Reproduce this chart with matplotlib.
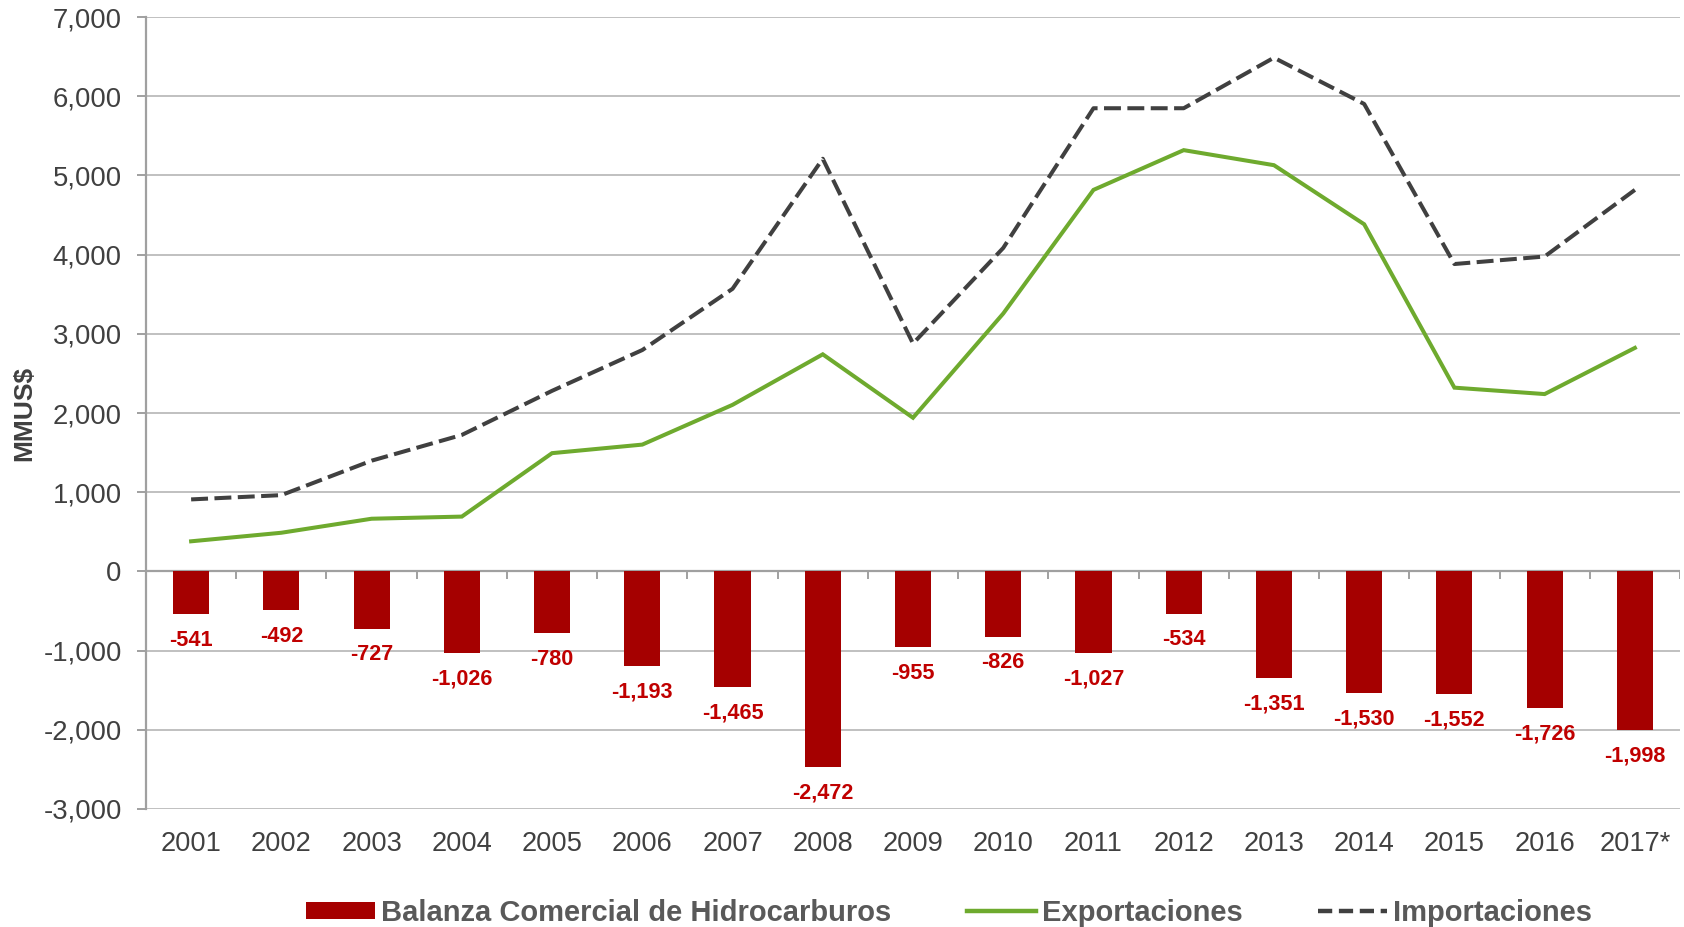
import matplotlib
matplotlib.use("Agg")
import matplotlib.pyplot as plt
from matplotlib.patches import Patch
from matplotlib.lines import Line2D
import numpy as np

plt.rcParams['font.family'] = ['Liberation Sans', 'DejaVu Sans']

years = ["2001", "2002", "2003", "2004", "2005", "2006", "2007", "2008", "2009",
         "2010", "2011", "2012", "2013", "2014", "2015", "2016", "2017*"]
balanza = [-541, -492, -727, -1026, -780, -1193, -1465, -2472, -955,
           -826, -1027, -534, -1351, -1530, -1552, -1726, -1998]
exportaciones = [380, 488, 665, 692, 1493, 1601, 2103, 2741, 1940,
                 3256, 4817, 5319, 5129, 4383, 2320, 2239, 2822]
importaciones = [909, 963, 1398, 1723, 2280, 2795, 3568, 5210, 2877,
                 4084, 5848, 5848, 6486, 5902, 3881, 3976, 4817]
yticks = [-3000, -2000, -1000, 0, 1000, 2000, 3000, 4000, 5000, 6000, 7000]

BAR = '#A50000'
LBL = '#C00000'
GREEN = '#6EAA2E'
DASH = '#404040'
GRID = '#C0C0C0'
AXC = '#A0A0A0'
TXT = '#404040'

fig = plt.figure(figsize=(16.84, 9.27), dpi=100)
ax = fig.add_axes([146/1684, 1-809/927, (1680-146)/1684, (809-17)/927])

x = np.arange(len(years))
ax.bar(x, balanza, width=0.4, color=BAR, zorder=3)
ax.plot(x, exportaciones, color=GREEN, lw=2.9, zorder=4, solid_joinstyle='miter')
ax.plot(x, importaciones, color=DASH, lw=2.9, dashes=(4.2, 1.6), zorder=4)

for xi, v in zip(x, balanza):
    ax.annotate(f"{v:,}", (xi, v), xytext=(0, -18.7), textcoords='offset points',
                ha='center', va='center', color=LBL, fontsize=15.6, fontweight='bold', zorder=5)

ax.set_xlim(-0.5, len(years) - 0.5)
ax.set_ylim(-3000, 7000)
ax.set_yticks(yticks)
ax.set_yticklabels([f"{t:,}" for t in yticks])
ax.yaxis.grid(True, color=GRID, lw=1.4, zorder=0)
ax.set_axisbelow(True)
ax.set_xticks(x)
ax.set_xticklabels(years)

for s in ['top', 'right', 'bottom']:
    ax.spines[s].set_visible(False)
ax.spines['left'].set_color(AXC)
ax.spines['left'].set_linewidth(1.6)
ax.tick_params(axis='y', length=6.5, width=1.4, color=AXC, pad=11, labelsize=19.8, labelcolor=TXT)
ax.tick_params(axis='x', length=0, pad=15.5, labelsize=19.6, labelcolor=TXT)

# category axis at zero with boundary tick marks
ax.axhline(0, color=AXC, lw=1.6, zorder=2)
bounds = np.arange(len(years) + 1) - 0.5
ax.vlines(bounds[1:], -90, 0, color=AXC, lw=1.4, zorder=2)

fig.text(24/1684, 1-413/927, "MMUS$", rotation=90, ha='center', va='center',
         fontsize=19, fontweight='bold', color=TXT)

handles = [Patch(facecolor=BAR, edgecolor='none'),
           Line2D([], [], color=GREEN, lw=3.2),
           Line2D([], [], color=DASH, lw=3.2, dashes=(3.2, 1.5))]
labels = ["Balanza Comercial de Hidrocarburos", "Exportaciones", "Importaciones"]
leg = fig.legend(handles, labels, loc='center', bbox_to_anchor=(0.5637, 0.0155), ncol=3,
                 frameon=False, handlelength=2.36, handleheight=0.55, handletextpad=0.2,
                 columnspacing=2.6, borderpad=0, prop={'size': 21, 'weight': 'bold'})
for t in leg.get_texts():
    t.set_color('#595959')

fig.savefig("out.png", dpi=100)
